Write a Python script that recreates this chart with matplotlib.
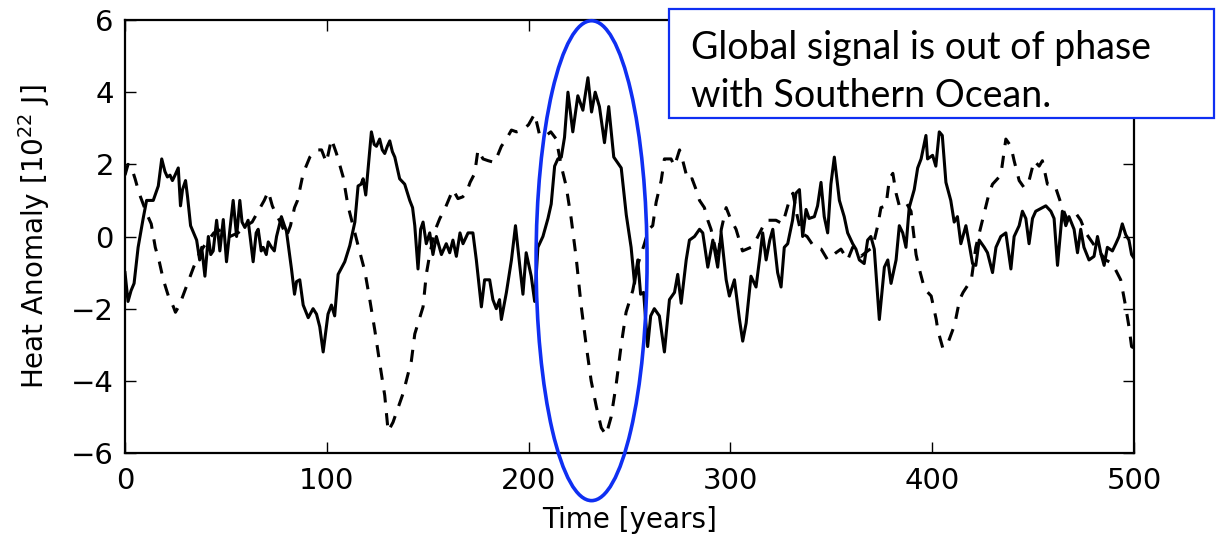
import matplotlib
matplotlib.use("Agg")
import matplotlib.pyplot as plt
from matplotlib.patches import Ellipse, Rectangle

# Heat anomaly time series (units of 1e22 J).
# Solid line: global signal. Dashed line: Southern Ocean.
years_global = [
    0, 1.5, 3, 4.5, 6.5, 9, 10.7, 12.5, 14, 16.5, 18.2, 19.8, 21, 22.3, 23.5,
    24.8, 26.4, 27.5, 28.5, 30, 31, 32.5, 34, 35.5, 37, 38, 39.6, 41.3, 42.5,
    43.7, 45.4, 47, 48.7, 50.3, 52, 53.6, 55.3, 56.9, 58, 59.4, 61, 62, 63.5,
    65, 66, 67.5, 68.5, 70, 71, 72.6, 74, 75.1, 77.5, 79, 80, 82.5, 84, 85,
    86.6, 88.3, 90.8, 93.2, 94.9, 96.5, 98.2, 100.6, 102.3, 103.9, 105.6, 107,
    108.9, 111.4, 113.9, 115.5, 117, 118, 119.3, 122.1, 123.5, 124.6, 126.2,
    127.5, 128.7, 130, 131.2, 132.5, 133.7, 136.1, 138.6, 141.1, 142.5, 143.6,
    145.2, 146.5, 147.7, 149.3, 151, 152.6, 154.3, 156.8, 159.2, 160.9, 162.5,
    164.2, 166, 167.5, 170, 172.4, 174.1, 176.6, 178.2, 180.7, 182.3, 184,
    185.6, 186.5, 189, 191.5, 193.5, 195.6, 197.2, 198.8, 201.3, 203, 204.6,
    207.1, 209.6, 211.2, 212.9, 214.5, 216.2, 217.8, 219.5, 221.9, 224.4,
    226.9, 229.4, 231.2, 233, 235.1, 237.6, 239.7, 242.2, 245.9, 248.4, 250.8,
    252.5, 254.1, 255.5, 257, 259, 260.5, 262.3, 264.8, 267.3, 269.8, 272.3,
    273.9, 275.6, 278.1, 279.7, 282.2, 284.7, 286.3, 288.8, 291.3, 293.7,
    295.4, 297.9, 299.5, 302, 304.5, 306.1, 307.8, 310.2, 312.7, 314.4, 316,
    317.7, 319.5, 321, 323.4, 325.1, 326.7, 328.4, 330.8, 332.5, 334.2, 335.8,
    337.5, 339, 341.6, 343.2, 344.9, 346.5, 348.2, 349.8, 351.5, 354, 356.4,
    358.1, 360.6, 362.2, 363.9, 366.3, 368, 369.6, 371.3, 373.8, 376.3, 378,
    379.6, 382.1, 383.7, 385.4, 387, 388.6, 391.1, 392.8, 394.5, 396.9, 397.7,
    400.2, 401.8, 403.5, 405, 406.8, 409.2, 410.9, 412.5, 414.2, 416.7, 418.3,
    420, 421.6, 423.3, 425.8, 427.4, 429.9, 431.6, 434, 436.5, 439, 440.6,
    443.1, 444.7, 446.4, 448, 449.7, 451.3, 453, 456.3, 458.8, 460.4, 462.1,
    464.5, 466.2, 467.8, 470.3, 472, 473.6, 475.2, 477.7, 480.2, 481.9, 483.5,
    485.2, 486.8, 489.3, 491, 492.6, 494.2, 495.9, 497.5, 498.8, 500,
]
heat_global = [
    -1.0, -1.8, -1.5, -1.3, -0.3, 0.5, 1.0, 1.0, 1.0, 1.4, 2.15, 1.8, 1.65, 1.7,
    1.55, 1.7, 1.9, 0.85, 1.3, 1.55, 1.1, 0.3, 0.1, -0.1, -0.65, -0.3, -1.1,
    0.0, -0.5, -0.4, 0.45, -0.4, 0.47, -0.7, 0.2, 1.0, 0.0, 1.0, 0.4, 0.25,
    0.45, 0.0, -0.7, 0.1, 0.2, -0.4, -0.3, -0.5, -0.15, -0.3, -0.4, 0.0, 0.55,
    0.3, 0.15, -0.9, -1.6, -1.25, -1.2, -1.9, -2.25, -2.0, -2.15, -2.5, -3.2,
    -2.15, -1.9, -2.2, -1.05, -0.9, -0.7, -0.25, 0.4, 1.4, 1.45, 1.6, 1.15, 2.9,
    2.55, 2.5, 2.7, 2.4, 2.3, 2.5, 2.65, 2.35, 2.2, 1.6, 1.45, 1.0, 0.8, 0.3,
    -0.9, 0.2, 0.4, -0.2, 0.1, -0.5, 0.0, -0.5, -0.2, -0.45, -0.1, -0.55, 0.1,
    -0.2, 0.1, 0.1, -0.65, -1.95, -1.2, -1.2, -1.75, -2.0, -1.75, -2.3, -1.55,
    -0.65, 0.3, -0.8, -1.6, -0.45, -1.1, -1.8, -0.3, 0.0, 0.5, 0.9, 1.95, 2.15,
    2.2, 2.75, 4.0, 2.9, 3.9, 3.5, 4.4, 3.45, 4.0, 3.6, 2.6, 3.6, 2.2, 1.9, 0.6,
    -0.3, -1.3, -0.65, -1.6, -1.55, -3.05, -2.2, -2.0, -2.2, -3.2, -1.75, -1.55,
    -1.05, -1.85, -0.65, -0.1, 0.0, 0.2, 0.1, -0.85, -0.1, -0.85, 0.1, -1.2,
    -1.65, -1.2, -2.3, -2.9, -2.4, -1.1, -1.4, -0.65, 0.1, -0.65, -0.1, 0.2,
    -1.0, -1.4, -0.3, -0.2, 0.45, 1.2, 1.3, 0.0, 0.75, 0.5, 0.55, 0.85, 1.5,
    0.55, 0.1, 1.45, 2.2, 1.0, 0.55, 0.1, -0.2, -0.35, -0.65, -0.75, -0.1, 0.0,
    -0.35, -2.3, -0.85, -0.65, -1.3, -0.65, 0.3, 0.1, -0.3, 0.8, 1.3, 1.9,
    2.15, 2.8, 2.15, 2.25, 1.95, 2.9, 2.8, 1.5, 1.0, 0.4, 0.55, -0.2, 0.3, -0.2,
    -0.75, -0.8, -0.1, -0.3, -0.45, -1.0, -0.3, 0.0, 0.1, -0.9, 0.0, 0.3, 0.7,
    0.5, -0.2, 0.5, 0.7, 0.75, 0.85, 0.7, 0.5, -0.8, 0.7, 0.3, 0.55, 0.2,
    -0.45, 0.2, -0.3, -0.65, -0.55, 0.0, -0.45, -0.8, -0.3, -0.4, -0.2, 0.0,
    0.35, 0.05, -0.1, -0.5, -0.6,
]

years_southern = [
    0, 1.5, 3, 5, 7, 9, 11, 13, 15, 17, 19, 21.5, 24, 25, 27, 29, 31, 34, 37,
    40, 44, 48, 52, 56, 60, 63, 66, 69, 71, 73, 75, 77, 80, 82, 84, 85.5, 88.3,
    91.6, 94.9, 97.4, 99.8, 102.3, 104.8, 108.1, 110.5, 113, 115.5, 118.8,
    121.3, 123.8, 126.2, 128.7, 130.4, 132.8, 135, 137.8, 141.9, 143.6, 147.7,
    149.3, 151, 153.5, 156, 158.4, 162.5, 165, 167.4, 169.1, 171, 173.3, 174.9,
    177.4, 180, 183.2, 186.5, 189, 191.5, 194, 197.2, 200, 203, 205.5, 208.7,
    211, 213.7, 216.2, 218.6, 221.1, 223.6, 226, 228.5, 231, 233.5, 236, 238.4,
    240.9, 243.4, 245.9, 248.3, 251.6, 254, 257.4, 259.5, 261.5, 263.2, 265.7,
    267.3, 270.6, 272.3, 274.8, 276.4, 278.9, 281, 283, 284.7, 287.1, 288.8,
    290.4, 292, 293.7, 295.5, 297.9, 300, 302.8, 306, 310.2, 312.7, 317.7,
    322.6, 325.9, 329.2, 331, 333, 335, 338, 341.6, 345, 348.2, 352.3, 354.8,
    358.1, 360.6, 364.7, 368, 370.5, 373, 374.6, 377.1, 378.8, 380.5, 382.1,
    383.7, 387, 389.5, 392, 393.6, 396.2, 399.5, 402, 402.8, 405.3, 407.8,
    411.1, 413.6, 415.3, 419.4, 421.6, 424.9, 428.2, 429.9, 434, 436.5, 439,
    440.6, 443.1, 445.6, 448, 450.5, 453, 454.6, 457.1, 459.6, 461.2, 464.5,
    467, 471.1, 473.6, 476.1, 481, 486, 489.3, 493.4, 495.9, 497.5, 498.8, 500,
]
heat_southern = [
    1.7, 2.0, 1.95, 1.6, 1.2, 0.9, 0.6, 0.35, -0.3, -0.7, -1.2, -1.65, -1.95,
    -2.1, -1.9, -1.6, -1.3, -0.85, -0.45, -0.2, 0.1, 0.2, 0.0, 0.1, 0.3, 0.4,
    0.7, 1.0, 1.25, 0.85, 0.6, 0.4, 0.0, 0.3, 0.8, 1.0, 1.75, 2.2, 2.4, 2.4,
    2.05, 2.7, 2.3, 1.65, 0.85, 0.3, -0.25, -0.95, -1.75, -2.6, -3.5, -4.4,
    -5.4, -5.15, -4.8, -4.35, -3.45, -2.7, -1.95, -1.05, -0.5, 0.15, 0.5, 0.75,
    1.3, 1.05, 1.1, 1.2, 1.5, 1.75, 2.4, 2.15, 2.1, 2.05, 2.5, 2.7, 2.95, 2.9,
    2.95, 3.1, 3.4, 2.8, 2.8, 2.9, 2.7, 1.95, 1.4, 0.5, -0.6, -1.9, -3.0, -4.0,
    -4.7, -5.3, -5.5, -5.0, -4.1, -3.0, -2.1, -1.5, -0.8, -0.2, 0.2, 0.3, 0.95,
    1.55, 2.15, 2.15, 1.95, 2.4, 2.1, 1.55, 1.6, 1.3, 1.0, 0.8, 0.45, 0.2, -0.2,
    -0.65, 0.2, 0.8, 0.5, 0.2, -0.4, -0.3, -0.1, 0.45, 0.45, 0.35, 1.0, 1.2,
    0.6, 0.1, 0.0, -0.3, -0.35, -0.65, -0.45, -0.35, -0.65, -0.3, -0.55, -0.4,
    -0.3, 0.3, 0.8, 0.85, 1.6, 1.75, 1.2, 0.85, 0.95, 0.7, -0.5, -0.9, -1.45,
    -1.65, -2.3, -2.6, -3.1, -2.95, -2.45, -1.75, -1.55, -1.2, -0.3, 0.45, 1.2,
    1.45, 1.7, 2.7, 2.5, 2.1, 1.55, 1.35, 1.55, 2.1, 1.95, 2.1, 1.45, 1.45,
    1.35, 0.8, 0.45, 0.65, 0.45, 0.1, -0.3, -0.65, -0.75, -1.2, -1.95, -2.5,
    -3.05, -3.1,
]

y_ticks = [-6, -4, -2, 0, 2, 4, 6]
x_ticks = [0, 100, 200, 300, 400, 500]
note_lines = ["Global signal is out of phase", "with Southern Ocean."]

blue = "#0f2ff2"

fig = plt.figure(figsize=(12.18, 5.47), dpi=100)
ax = fig.add_axes([125 / 1218, 94 / 547, 1009 / 1218, 433 / 547])

ax.plot(years_global, heat_global, color="black", lw=2.2)
ax.plot(years_southern, heat_southern, color="black", lw=2.2,
        linestyle=(0, (4, 3.5)))

ax.set_xlim(0, 500)
ax.set_ylim(-6, 6)
ax.set_xticks(x_ticks)
ax.set_yticks(y_ticks)
ax.tick_params(direction="in", length=8, width=1, top=True, right=True,
               labelsize=21, colors="black")
ax.tick_params(axis="x", pad=10)
ax.tick_params(axis="y", pad=8)
for sp in ax.spines.values():
    sp.set_linewidth(1.6)

ax.set_xlabel("Time [years]", fontsize=20, labelpad=8)
ax.set_ylabel(r"Heat Anomaly [$10^{22}$ J]", fontsize=20, labelpad=14)

# highlight around the big excursion near year 230
ell = Ellipse((231.2, -0.67), 55, 13.3, fill=False, edgecolor=blue,
              lw=2.6, clip_on=False, zorder=5)
ax.add_patch(ell)

# annotation box in figure pixels
W, H = 1218, 547
box = Rectangle((669 / W, 1 - 118 / H), (1214 - 669) / W, (118 - 9) / H,
                transform=fig.transFigure, facecolor="white", edgecolor=blue,
                lw=1.6, zorder=10)
fig.patches.append(box)
fig.text(691 / W, 1 - 59 / H, note_lines[0], fontsize=27, family="Lato",
         va="baseline", ha="left", zorder=11)
fig.text(691 / W, 1 - 107 / H, note_lines[1], fontsize=27, family="Lato",
         va="baseline", ha="left", zorder=11)

fig.savefig("out.png", dpi=100)
